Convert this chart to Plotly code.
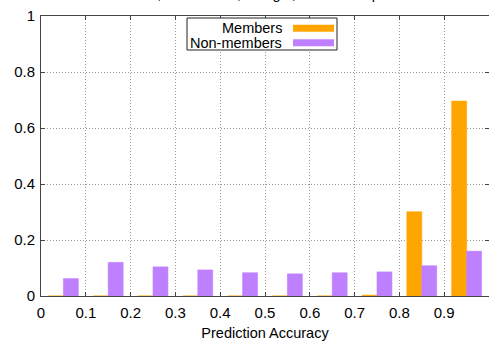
import plotly.graph_objects as go

# Histogram of prediction accuracy for members vs. non-members
bin_centers = [0.05, 0.15, 0.25, 0.35, 0.45, 0.55, 0.65, 0.75, 0.85, 0.95]
members = [0.0, 0.0, 0.0, 0.0, 0.0, 0.0, 0.0, 0.003, 0.301, 0.696]
non_members = [0.062, 0.120, 0.104, 0.093, 0.083, 0.079, 0.083, 0.086, 0.108, 0.160]
series_names = ["Members", "Non-members"]
series_colors = ["#FFA500", "#BF80FF"]
x_ticks = [0, 0.1, 0.2, 0.3, 0.4, 0.5, 0.6, 0.7, 0.8, 0.9, 1]
x_tick_labels = ["0", "0.1", "0.2", "0.3", "0.4", "0.5", "0.6", "0.7", "0.8", "0.9", "1"]
y_ticks = [0, 0.2, 0.4, 0.6, 0.8, 1]
y_tick_labels = ["0", "0.2", "0.4", "0.6", "0.8", "1"]
title_text = "Purchase Dataset, 10 Classes, Google, Membership Inference Attack"

FONT = "Liberation Sans, Arial, sans-serif"
W, H = 489, 341
ML, MR, MT, MB = 41, 0, 16, 45
PW, PH = W - ML - MR, H - MT - MB

fig = go.Figure()
for name, vals, col in zip(series_names, [members, non_members], series_colors):
    fig.add_trace(go.Bar(
        x=bin_centers, y=vals, name=name,
        marker=dict(color=col, line=dict(color=col, width=0.6)),
        showlegend=False,
    ))

def px_x(p):
    return (p - ML) / PW

def px_y(p):
    return (H - MB - p) / PH

# Boxed key with right-aligned labels and colour samples on the right
shapes = [dict(type="rect", xref="paper", yref="paper",
               x0=px_x(187), x1=px_x(337), y0=px_y(50), y1=px_y(18),
               line=dict(color="#222", width=1), fillcolor="white", layer="above")]
annotations = []
for i, (name, col) in enumerate(zip(series_names, series_colors)):
    cy = 28.3 + i * 14.5
    shapes.append(dict(type="rect", xref="paper", yref="paper",
                       x0=px_x(293), x1=px_x(334), y0=px_y(cy + 3.5), y1=px_y(cy - 3.5),
                       line=dict(width=0), fillcolor=col, layer="above"))
    annotations.append(dict(xref="paper", yref="paper", x=px_x(284), y=px_y(cy),
                            xanchor="right", yanchor="middle", showarrow=False,
                            text=name, font=dict(family=FONT, size=14.5, color="black")))

annotations.append(dict(xref="paper", yref="paper", x=px_x(40), y=px_y(4.5),
                        xanchor="left", yanchor="bottom", showarrow=False,
                        text=title_text, font=dict(family=FONT, size=14.5, color="black")))

grid_style = dict(showgrid=True, gridcolor="#999999", griddash="1px,2px", gridwidth=1,
                  showline=True, linecolor="#444", linewidth=1, mirror="allticks",
                  ticks="inside", ticklen=4, tickcolor="#444",
                  zeroline=False, automargin=False)

fig.update_layout(
    width=W, height=H,
    margin=dict(l=ML, r=MR, t=MT, b=MB, pad=0),
    paper_bgcolor="white", plot_bgcolor="white",
    barmode="group", bargap=1/3, bargroupgap=0,
    shapes=shapes, annotations=annotations,
    font=dict(family=FONT, size=15, color="black"),
    xaxis=dict(range=[0, 1], tickvals=x_ticks, ticktext=x_tick_labels,
               ticklabelstandoff=3,
               title=dict(text="Prediction Accuracy", standoff=11,
                          font=dict(family=FONT, size=14.5)),
               **grid_style),
    yaxis=dict(range=[0, 1], tickvals=y_ticks, ticktext=y_tick_labels,
               ticklabelstandoff=2,
               **grid_style),
)

fig.write_html("out.html")
